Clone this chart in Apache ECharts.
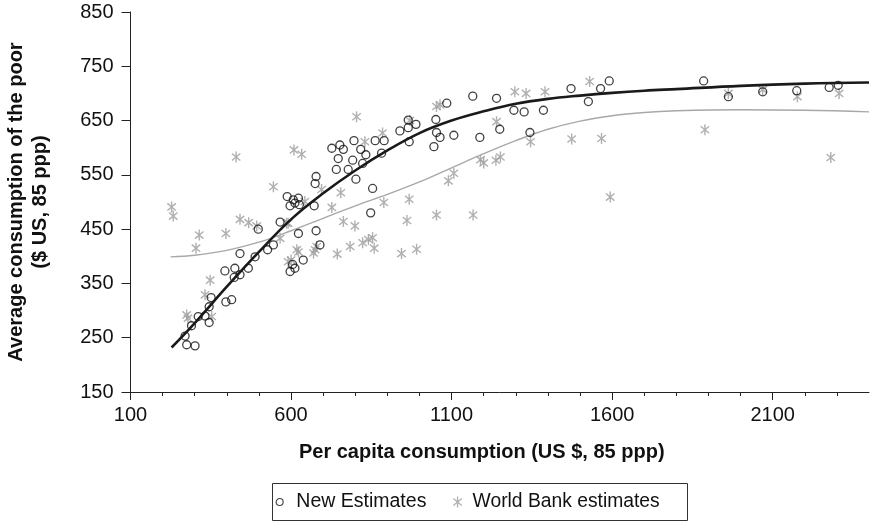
<!DOCTYPE html>
<html>
<head>
<meta charset="utf-8">
<script src="https://cdn.jsdelivr.net/npm/echarts@6/dist/echarts.min.js"></script>
<style>
html,body{margin:0;padding:0;background:#fff;}
#chart{width:870px;height:524px;}
</style>
</head>
<body>
<div id="chart"></div>
<script>
// ---- tick values ----
const xTicks = [100, 600, 1100, 1600, 2100];
const xMinorTicks = [200, 300, 400, 500, 700, 800, 900, 1000, 1200, 1300, 1400, 1500, 1700, 1800, 1900, 2000, 2200, 2300];
const yTicks = [150, 250, 350, 450, 550, 650, 750, 850];

// ---- series names ----
const seriesNames = ['New Estimates', 'World Bank estimates'];

// ---- New Estimates (per capita consumption, avg consumption of the poor) ----
const newEstimates = [
  [275,237],[301,235],[270,253],[290,272],[311,289],[332,290],[345,278],[345,307],[351,324],
  [397,316],[415,320],[394,373],[425,378],[423,361],[441,366],[467,378],[441,405],[488,399],
  [527,412],[545,421],[498,450],[566,463],[597,372],[612,378],[605,385],[638,393],[623,442],
  [678,447],[690,421],[672,493],[588,510],[607,504],[597,493],[623,507],[626,495],[612,498],
  [678,547],[675,534],[727,599],[752,605],[763,597],[747,580],[741,560],[792,577],[796,613],
  [817,597],[778,560],[823,571],[802,542],[833,587],[862,613],[890,613],[882,590],[854,525],
  [848,480],[939,631],[965,651],[989,643],[965,637],[968,611],[1045,602],[1051,652],[1053,628],
  [1064,619],[1085,682],[1166,695],[1240,691],[1107,623],[1188,619],[1250,634],[1294,669],
  [1326,666],[1386,669],[1472,709],[1526,685],[1564,709],[1591,723],[1344,628],[1885,723],
  [1962,694],[2069,703],[2175,705],[2276,711],[2304,715]
];

// ---- World Bank estimates ----
const worldBank = [
  [228,491],[233,474],[314,439],[304,415],[397,442],[441,468],[468,462],[493,456],[348,356],
  [332,329],[275,292],[279,286],[353,289],[429,583],[545,528],[591,461],[566,433],[586,461],
  [591,390],[600,393],[618,412],[623,408],[609,596],[633,588],[643,501],[695,523],[675,412],
  [680,418],[670,406],[727,490],[755,517],[763,464],[799,456],[744,404],[784,418],[823,425],
  [841,431],[854,434],[859,415],[889,499],[968,505],[961,466],[944,405],[991,413],[1053,476],
  [1167,476],[1090,539],[1107,553],[804,657],[830,611],[885,627],[970,650],[1053,676],[1064,679],
  [1240,648],[1190,578],[1200,572],[1238,577],[1252,583],[1297,703],[1332,700],[1391,703],
  [1530,722],[1346,611],[1474,616],[1567,617],[1594,509],[1962,700],[2069,707],[2177,694],
  [2307,700],[1889,633],[2281,582]
];

// ---- fitted curves ----
const newFit = [
  [228,232],[300,277],[400,344],[500,408],[600,468],[700,516],[800,558],[900,595],[1000,627],
  [1100,650],[1200,667],[1300,681],[1400,690],[1500,696],[1600,701],[1700,705],[1800,708],
  [2000,714],[2200,718],[2400,720]
];
const wbFit = [
  [225,399],[300,402],[400,411],[500,426],[600,447],[700,470],[800,493],[900,514],[1000,537],
  [1100,563],[1200,589],[1300,613],[1400,634],[1500,649],[1600,659],[1700,665],[1800,668],
  [2000,670],[2200,669],[2400,666]
];

const FONT = "'Liberation Sans', Arial, Helvetica, sans-serif";
const asterisk = 'path://M5,0L5,10M1.17,1.79L8.83,8.21M1.17,8.21L8.83,1.79';
const plain = v => String(v);

const chart = echarts.init(document.getElementById('chart'), null, {renderer: 'canvas'});
chart.setOption({
  animation: false,
  backgroundColor: '#fff',
  grid: {left: 130.5, top: 12, width: 738.5, height: 380, outerBoundsMode: 'none', containLabel: false},
  graphic: [{
    type: 'rect', z: -1,
    shape: {x: 272.5, y: 483.5, width: 415, height: 37},
    style: {fill: 'none', stroke: '#333', lineWidth: 1}
  }],
  legend: [{
    data: [seriesNames[0]],
    left: 275.6, top: 491, padding: 0,
    itemWidth: 23.4, itemHeight: 7,
    icon: 'circle',
    itemStyle: {color: 'rgba(0,0,0,0)', borderColor: '#111', borderWidth: 1.1},
    textStyle: {fontFamily: FONT, fontSize: 19.5, color: '#111', lineHeight: 22},
    selectedMode: false
  }, {
    data: [seriesNames[1]],
    left: 452.7, top: 491, padding: 0,
    itemWidth: 20, itemHeight: 11,
    icon: asterisk,
    itemStyle: {color: 'rgba(0,0,0,0)', borderColor: '#9c9c9c', borderWidth: 1.3},
    textStyle: {fontFamily: FONT, fontSize: 19.3, color: '#111', lineHeight: 22},
    selectedMode: false
  }],
  xAxis: [{
    type: 'value', min: 100, max: 2400,
    name: 'Per capita consumption (US $, 85 ppp)',
    nameLocation: 'middle', nameGap: 50,
    nameTextStyle: {fontFamily: FONT, fontSize: 20, fontWeight: 'bold', color: '#111', padding: [0, 36, 0, 0]},
    axisLine: {show: true, lineStyle: {color: '#222', width: 1}},
    axisTick: {show: true, length: 8, customValues: xTicks, lineStyle: {color: '#222', width: 1}},
    axisLabel: {show: true, customValues: xTicks, formatter: plain, margin: 13, fontFamily: FONT, fontSize: 20, color: '#111'},
    splitLine: {show: false}
  }, {
    type: 'value', min: 100, max: 2400, position: 'bottom', gridIndex: 0,
    axisLine: {show: false},
    axisTick: {show: true, length: 4, customValues: xMinorTicks, lineStyle: {color: '#222', width: 1}},
    axisLabel: {show: false},
    splitLine: {show: false}
  }],
  yAxis: {
    type: 'value', min: 150, max: 850,
    name: 'Average consumption of the poor\n($ US, 85 ppp)',
    nameLocation: 'middle', nameGap: 78,
    nameTextStyle: {fontFamily: FONT, fontSize: 20, fontWeight: 'bold', color: '#111', lineHeight: 24, align: 'center'},
    axisLine: {show: true, lineStyle: {color: '#222', width: 1}},
    axisTick: {show: true, length: 9, customValues: yTicks, lineStyle: {color: '#222', width: 1}},
    axisLabel: {show: true, customValues: yTicks, formatter: plain, margin: 17, fontFamily: FONT, fontSize: 20, color: '#111'},
    splitLine: {show: false}
  },
  series: [{
    name: seriesNames[1], type: 'scatter', data: worldBank, z: 2,
    symbol: asterisk, symbolSize: 11, symbolKeepAspect: true,
    itemStyle: {color: 'rgba(0,0,0,0)', borderColor: '#9c9c9c', borderWidth: 1.4},
    emphasis: {disabled: true}
  }, {
    name: 'wbFit', type: 'line', data: wbFit, z: 3,
    showSymbol: false, smooth: 0.4,
    lineStyle: {color: '#a8a8a8', width: 1.4},
    emphasis: {disabled: true}
  }, {
    name: seriesNames[0], type: 'scatter', data: newEstimates, z: 4,
    symbol: 'circle', symbolSize: 8,
    itemStyle: {color: 'rgba(0,0,0,0)', borderColor: '#111', borderWidth: 1.3},
    emphasis: {disabled: true}
  }, {
    name: 'newFit', type: 'line', data: newFit, z: 5,
    showSymbol: false, smooth: 0.4,
    lineStyle: {color: '#1a1a1a', width: 2.6},
    emphasis: {disabled: true}
  }]
});
</script>
</body>
</html>
